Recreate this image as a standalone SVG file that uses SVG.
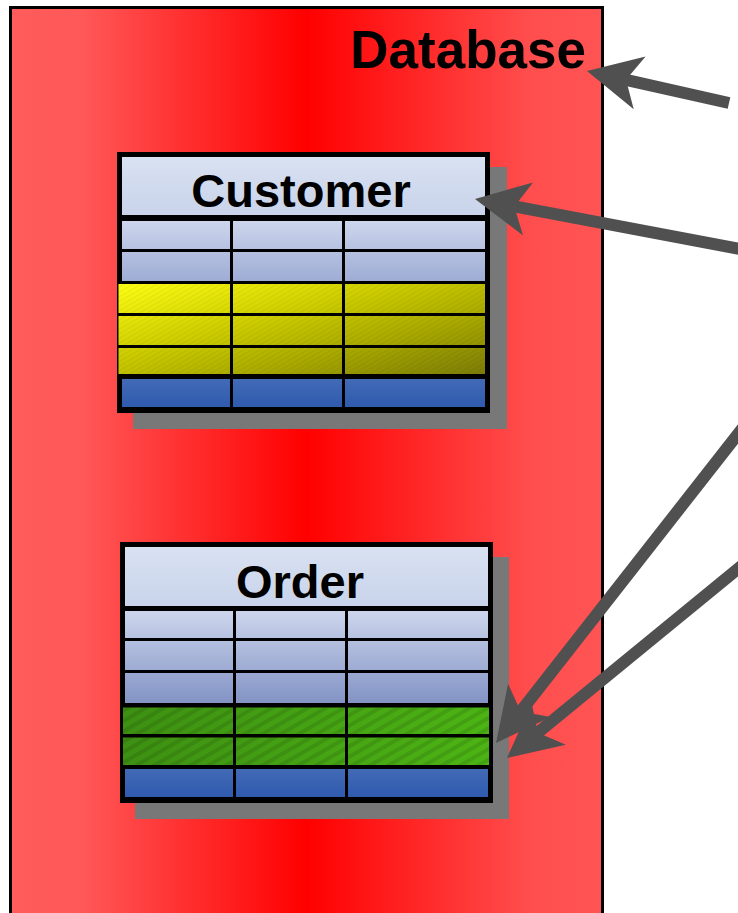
<svg xmlns="http://www.w3.org/2000/svg" width="738" height="913" viewBox="0 0 738 913">
<defs>
<style>
.ttl{font-family:"Liberation Sans",Arial,sans-serif;font-weight:bold;fill:#000;}
.shadow{fill:#787878;}
.frame{fill:#000;}
.conn{stroke:#505050;stroke-width:12;fill:none;marker-end:url(#ah);}
</style>
<linearGradient id="dbg" x1="0" y1="0" x2="1" y2="0">
<stop offset="0" stop-color="#ff5c5c"/>
<stop offset="0.12" stop-color="#ff5858"/>
<stop offset="0.5" stop-color="#ff0000"/>
<stop offset="0.88" stop-color="#ff4e4e"/>
<stop offset="1" stop-color="#ff5454"/>
</linearGradient>
<linearGradient id="hdr" x1="0" y1="0" x2="0" y2="1">
<stop offset="0" stop-color="#d9e2f2"/>
<stop offset="1" stop-color="#c9d3ea"/>
</linearGradient>
<linearGradient id="bodyC" gradientUnits="userSpaceOnUse" x1="0" y1="219" x2="0" y2="283">
<stop offset="0" stop-color="#ced7ed"/>
<stop offset="1" stop-color="#9dabd4"/>
</linearGradient>
<linearGradient id="bodyO" gradientUnits="userSpaceOnUse" x1="0" y1="609" x2="0" y2="705">
<stop offset="0" stop-color="#ced7ed"/>
<stop offset="1" stop-color="#8192c4"/>
</linearGradient>
<linearGradient id="blue" x1="0" y1="0" x2="0" y2="1">
<stop offset="0" stop-color="#426ab6"/>
<stop offset="1" stop-color="#2f5aae"/>
</linearGradient>
<linearGradient id="yel" gradientUnits="userSpaceOnUse" x1="0" y1="0" x2="1" y2="1" gradientTransform="translate(117,283) scale(369,94)">
<stop offset="0" stop-color="#ffff14"/>
<stop offset="0.4" stop-color="#cccc00"/>
<stop offset="0.7" stop-color="#a4a400"/>
<stop offset="1" stop-color="#7a7a08"/>
</linearGradient>
<linearGradient id="grn" gradientUnits="userSpaceOnUse" x1="123" y1="0" x2="489" y2="0">
<stop offset="0" stop-color="#3d9012"/>
<stop offset="1" stop-color="#4cb414"/>
</linearGradient>
<pattern id="hatchY" width="4" height="4" patternUnits="userSpaceOnUse" patternTransform="rotate(-30)">
<rect width="4" height="1.3" fill="#000" fill-opacity="0.05"/>
</pattern>
<pattern id="hatchG" width="9" height="9" patternUnits="userSpaceOnUse" patternTransform="rotate(-30)">
<rect width="9" height="4" fill="#000" fill-opacity="0.1"/>
</pattern>
<marker id="ah" markerUnits="userSpaceOnUse" viewBox="-20 -30 64 60" markerWidth="64" markerHeight="60" refX="0" refY="0" orient="auto">
<path d="M40,0 L-14,-27 L0,0 L-14,27 Z" fill="#505050"/>
</marker>
</defs>

<g id="database">
<rect x="10.5" y="7.5" width="592" height="920" fill="url(#dbg)" stroke="#000" stroke-width="3"/>
<text class="ttl" x="586" y="68" font-size="53" text-anchor="end">Database</text>
</g>

<g id="customer">
<rect class="shadow" x="133" y="167" width="374" height="262"/>
<rect class="frame" x="117" y="152" width="373" height="261"/>
<rect x="122" y="157" width="363" height="58" fill="url(#hdr)"/>
<text class="ttl" x="301" y="207" font-size="47" text-anchor="middle">Customer</text>
<g fill="url(#bodyC)">
<rect x="122" y="221" width="108" height="28"/><rect x="233" y="221" width="109" height="28"/><rect x="345" y="221" width="140" height="28"/>
<rect x="122" y="252" width="108" height="29"/><rect x="233" y="252" width="109" height="29"/><rect x="345" y="252" width="140" height="29"/>
</g>
<g fill="url(#yel)">
<rect x="118.5" y="284" width="111.5" height="29"/><rect x="233" y="284" width="109" height="29"/><rect x="345" y="284" width="140" height="29"/>
<rect x="118.5" y="316" width="111.5" height="29"/><rect x="233" y="316" width="109" height="29"/><rect x="345" y="316" width="140" height="29"/>
<rect x="118.5" y="348" width="111.5" height="26"/><rect x="233" y="348" width="109" height="26"/><rect x="345" y="348" width="140" height="26"/>
</g>
<g fill="url(#hatchY)">
<rect x="118.5" y="284" width="111.5" height="29"/><rect x="233" y="284" width="109" height="29"/><rect x="345" y="284" width="140" height="29"/>
<rect x="118.5" y="316" width="111.5" height="29"/><rect x="233" y="316" width="109" height="29"/><rect x="345" y="316" width="140" height="29"/>
<rect x="118.5" y="348" width="111.5" height="26"/><rect x="233" y="348" width="109" height="26"/><rect x="345" y="348" width="140" height="26"/>
</g>
<g fill="url(#blue)">
<rect x="122" y="379" width="108" height="28"/><rect x="233" y="379" width="109" height="28"/><rect x="345" y="379" width="140" height="28"/>
</g>
</g>

<g id="order">
<rect class="shadow" x="135" y="557" width="374" height="262"/>
<rect class="frame" x="120" y="542" width="373" height="261"/>
<rect x="125" y="547" width="363" height="59" fill="url(#hdr)"/>
<text class="ttl" x="300" y="598" font-size="47" text-anchor="middle">Order</text>
<g fill="url(#bodyO)">
<rect x="125" y="611" width="108" height="27"/><rect x="236" y="611" width="109" height="27"/><rect x="348" y="611" width="140" height="27"/>
<rect x="125" y="641" width="108" height="29"/><rect x="236" y="641" width="109" height="29"/><rect x="348" y="641" width="140" height="29"/>
<rect x="125" y="673" width="108" height="30"/><rect x="236" y="673" width="109" height="30"/><rect x="348" y="673" width="140" height="30"/>
</g>
<g fill="url(#grn)">
<rect x="123" y="707.5" width="110" height="26.5"/><rect x="236" y="707.5" width="109" height="26.5"/><rect x="348" y="707.5" width="141" height="26.5"/>
<rect x="123" y="737.5" width="110" height="27.5"/><rect x="236" y="737.5" width="109" height="27.5"/><rect x="348" y="737.5" width="141" height="27.5"/>
</g>
<g fill="url(#hatchG)">
<rect x="123" y="707.5" width="110" height="26.5"/><rect x="236" y="707.5" width="109" height="26.5"/><rect x="348" y="707.5" width="141" height="26.5"/>
<rect x="123" y="737.5" width="110" height="27.5"/><rect x="236" y="737.5" width="109" height="27.5"/><rect x="348" y="737.5" width="141" height="27.5"/>
</g>
<g fill="url(#blue)">
<rect x="125" y="769" width="108" height="28"/><rect x="236" y="769" width="109" height="28"/><rect x="348" y="769" width="140" height="28"/>
</g>
</g>

<g id="connectors">
<line class="conn" x1="729" y1="103" x2="626" y2="79.8"/>
<line class="conn" x1="745" y1="250" x2="514.3" y2="206.4"/>
<line class="conn" x1="745" y1="425" x2="520.7" y2="711.5"/>
<line class="conn" x1="745" y1="563" x2="537.9" y2="732.7"/>
</g>
</svg>
